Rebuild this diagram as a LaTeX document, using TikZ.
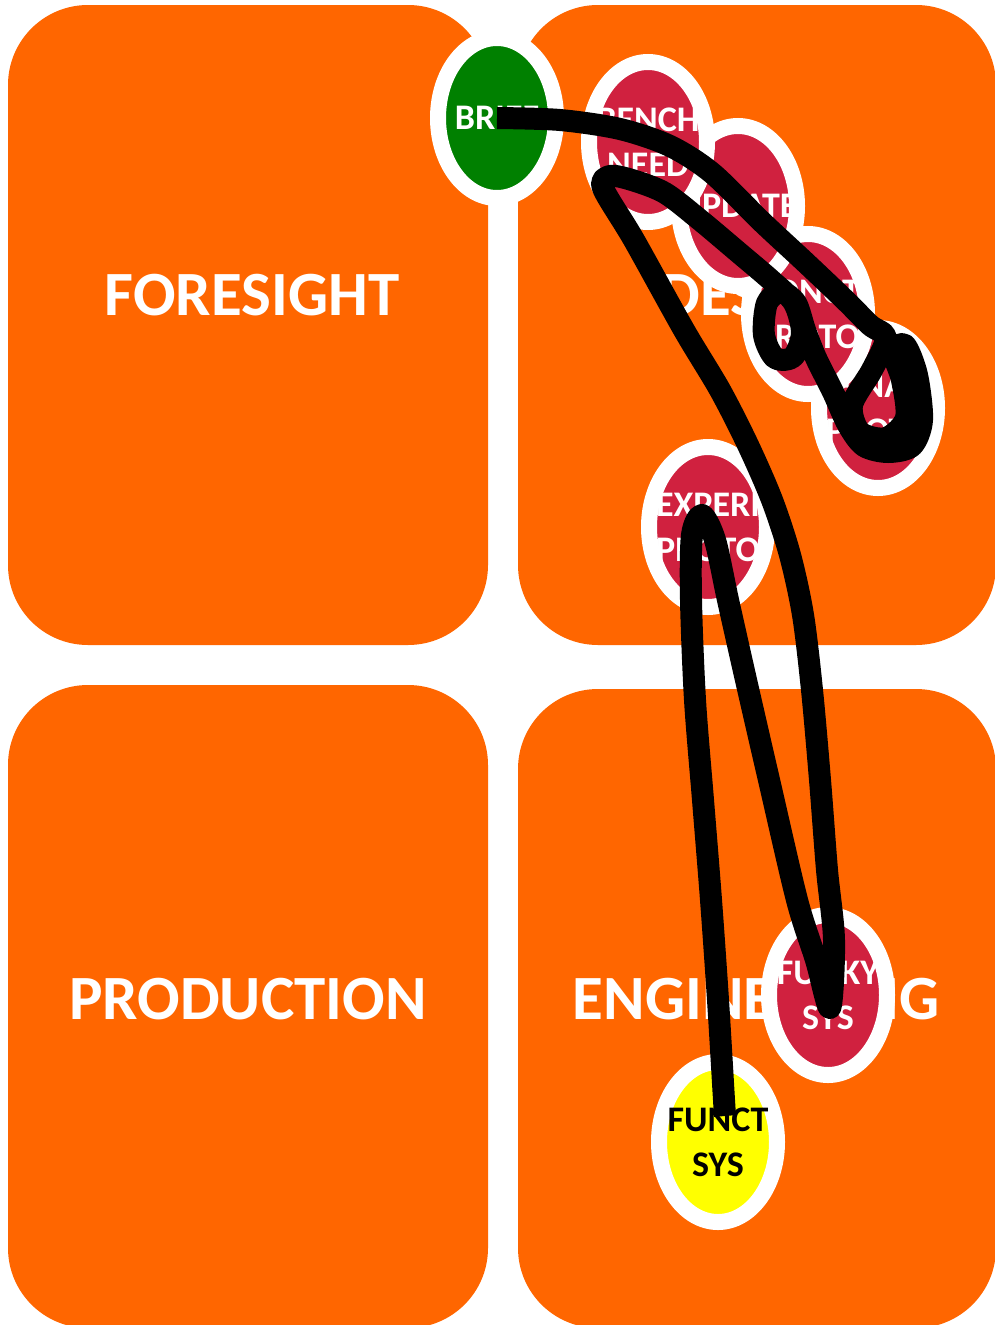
\documentclass[tikz,border=0pt]{standalone}
\usepackage{fontspec}
\setmainfont{Carlito}
\usetikzlibrary{shapes.geometric}
\definecolor{zoneorange}{HTML}{FF6600}
\definecolor{ballred}{HTML}{D0213F}
\definecolor{briefgreen}{HTML}{008000}
\definecolor{functyellow}{HTML}{FFFF00}

\begin{document}
\begin{tikzpicture}[x=1pt,y=-1pt,
  zone/.style={fill=zoneorange,rounded corners=80pt},
  zonelabel/.style={text=white,font=\fontsize{63}{70}\selectfont\bfseries,anchor=base,inner sep=0pt},
  ball/.style={ellipse,draw=white,line width=16pt,minimum width=118pt,minimum height=160pt,inner sep=0pt},
  balltext/.style={text=white,font=\fontsize{36}{45}\selectfont\bfseries,align=center,inner sep=0pt},
  ink/.style={line width=22pt,line join=round,line cap=butt}]
\useasboundingbox (0,0) rectangle (994,1325);
\fill[white] (0,0) rectangle (994,1325);
% the four zones
\fill[zone] (8,5) rectangle (488,645);
\fill[zone] (518,5) rectangle (996,645);
\fill[zone] (8,685) rectangle (488,1328);
\fill[zone] (518,689) rectangle (996,1328);
\node[zonelabel] (foresight) at (252,315) {FORESIGHT};
\node[zonelabel] (design) at (760,315) {DESIGN};
\node[zonelabel] (production) at (248,1019) {PRODUCTION};
\node[zonelabel] (engineering) at (756,1019) {ENGINEERING};
% steps
\node[ball,fill=ballred] (final) at (878,408) {};
\node[balltext] (finaltext) at (final) {FINAL\\PROTO};
\node[ball,fill=ballred] (concept) at (808,314) {};
\node[balltext] (concepttext) at (concept) {CONCT\\PROTO};
\node[ball,fill=ballred] (update) at (738,206) {};
\node[balltext] (updatetext) at (update) {UPDATE};
\node[ball,fill=ballred] (bench) at (648,142) {};
\node[balltext] (benchtext) at (bench) {BENCH\\NEED};
\node[ball,fill=briefgreen] (brief) at (497,118) {};
\node[balltext] (brieftext) at (brief) {BRIEF};
\node[ball,fill=ballred] (experi) at (708,527) {};
\node[balltext] (experitext) at (experi) {EXPERI\\PROTO};
\node[ball,fill=ballred] (funky) at (828,995) {};
\node[balltext] (funkytext) at (funky) {FUNKY\\SYS};
\node[ball,fill=functyellow] (funct) at (718,1142) {};
\node[balltext,text=black] (functtext) at (funct) {FUNCT\\SYS};
% the route, one stroke
\coordinate (inkend) at (725,1116);
\draw[ink] plot[smooth,tension=0.5] coordinates {(brief.center)
  (560,120) (620,129) (670,146) (712,173) (762,222) (805,262) (845,300)
  (870,325) (886,338) (872,370) (852,405) (860,432) (886,438) (906,418)
  (902,380) (893,352) (905,345) (917,375) (922,420) (912,446) (888,452)
  (864,446) (848,425) (833,392) (816,358) (805,330) (796,303) (781,292)
  (767,303) (764,335) (775,358) (793,357) (802,333) (794,303) (772,281)
  (738,252) (700,220) (665,193) (632,180) (610,176) (603,188) (634,240)
  (684,330) (720,390) (748,445) (772,500) (790,555) (803,615) (812,690)
  (820,780) (827,870) (834,940) (830,1008) (816,960) (797,900) (769,780)
  (746,680) (728,600) (715,540) (702,515) (692,535) (691,600) (695,700)
  (703,800) (711,900) (718,1000) (724,1100) (inkend)};
\end{tikzpicture}
\end{document}
